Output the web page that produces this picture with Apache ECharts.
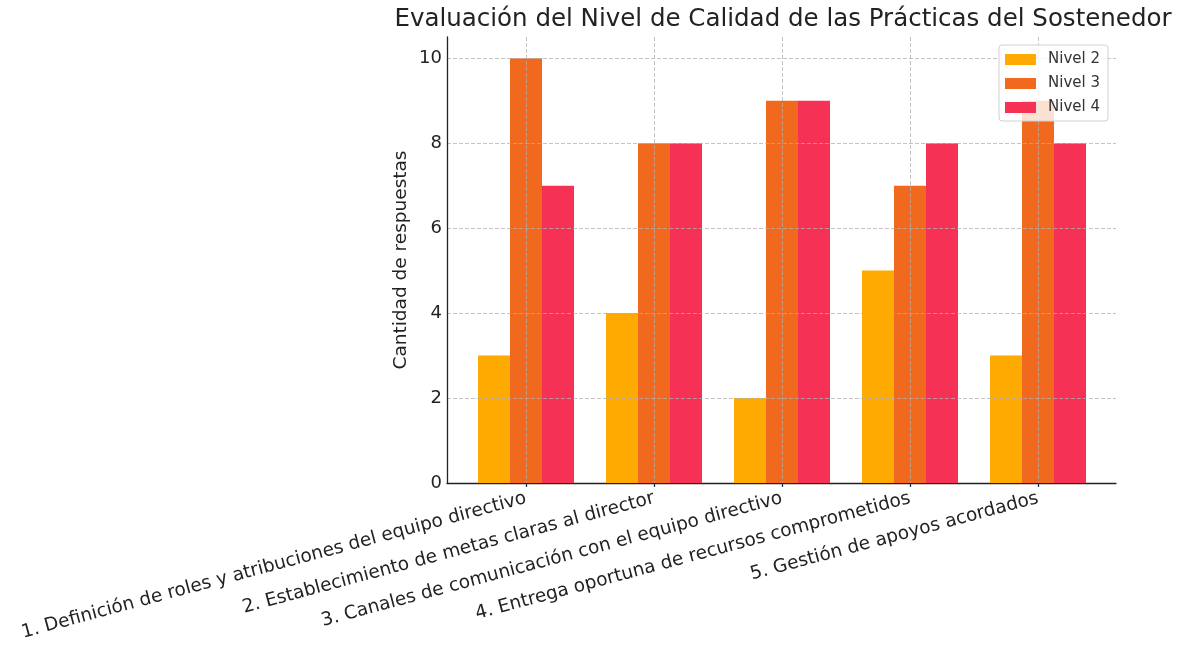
<!DOCTYPE html>
<html>
<head>
<meta charset="utf-8">
<script src="https://cdn.jsdelivr.net/npm/echarts@6/dist/echarts.min.js"></script>
<style>html,body{margin:0;padding:0;background:#fff}#c{width:1181px;height:651px}</style>
</head>
<body>
<div id="c"></div>
<script>
const categories = [
  '1. Definición de roles y atribuciones del equipo directivo',
  '2. Establecimiento de metas claras al director',
  '3. Canales de comunicación con el equipo directivo',
  '4. Entrega oportuna de recursos comprometidos',
  '5. Gestión de apoyos acordados'
];
const seriesNames = ['Nivel 2', 'Nivel 3', 'Nivel 4'];
const nivel2 = [3, 4, 2, 5, 3];
const nivel3 = [10, 8, 9, 7, 9];
const nivel4 = [7, 8, 9, 8, 8];
const yTicks = [0, 2, 4, 6, 8, 10];
const colors = ['#FFAA00', '#F0691F', '#F53255'];

const FONT = 'DejaVu Sans';
const chart = echarts.init(document.getElementById('c'), null, {renderer: 'canvas'});
const gridLine = {type: [4, 2], color: 'rgba(176,176,176,0.75)', width: 1};

chart.setOption({
  animation: false,
  backgroundColor: '#fff',
  textStyle: {fontFamily: FONT},
  title: {
    text: 'Evaluación del Nivel de Calidad de las Prácticas del Sostenedor',
    left: 778, textAlign: 'center', top: 2,
    textStyle: {fontFamily: FONT, fontSize: 24.5, fontWeight: 'normal', color: '#222'}
  },
  legend: {
    data: seriesNames,
    orient: 'vertical',
    left: 999, top: 45,
    itemWidth: 31, itemHeight: 11, itemGap: 9,
    padding: [7, 8, 6, 6],
    backgroundColor: 'rgba(255,255,255,0.8)',
    borderColor: '#d0d0d0', borderWidth: 1, borderRadius: 3,
    textStyle: {fontFamily: FONT, fontSize: 15, color: '#333', padding: [0, 0, 0, 7]},
    icon: 'rect'
  },
  grid: [
    {left: 447, right: 65, top: 37, bottom: 168, containLabel: false},
    {left: 462, width: 640, top: 37, bottom: 168, containLabel: false}
  ],
  xAxis: [
    {gridIndex: 0, type: 'value', min: 0, max: 1, axisLine: {show: true, onZero: false, lineStyle: {color: '#222', width: 1.3}},
     axisTick: {show: false}, axisLabel: {show: false}, splitLine: {show: false}},
    {gridIndex: 1, type: 'category', data: categories, z: 3,
     axisLine: {show: false},
     axisTick: {show: true, alignWithLabel: true, length: 4, lineStyle: {color: '#222', width: 1.2}},
     axisLabel: {rotate: 15, fontFamily: FONT, fontSize: 18.5, color: '#222', margin: 15, interval: 0},
     splitLine: {show: true, alignWithLabel: true, lineStyle: gridLine}}
  ],
  yAxis: [
    {gridIndex: 0, type: 'value', min: 0, max: 10.5, interval: 2, z: 3,
     name: 'Cantidad de respuestas', nameLocation: 'middle', nameGap: 36, nameMoveOverlap: false,
     nameTextStyle: {fontFamily: FONT, fontSize: 18.5, color: '#222'},
     axisLine: {show: true, lineStyle: {color: '#222', width: 1.3}},
     axisTick: {show: false},
     axisLabel: {fontFamily: FONT, fontSize: 18, color: '#222', margin: 5, showMaxLabel: false},
     splitLine: {show: true, showMinLine: false, showMaxLine: false, lineStyle: gridLine}},
    {gridIndex: 1, type: 'value', min: 0, max: 10.5, show: false, splitLine: {show: false}}
  ],
  series: [nivel2, nivel3, nivel4].map((d, i) => ({
    name: seriesNames[i], type: 'bar', xAxisIndex: 1, yAxisIndex: 1,
    data: d, barWidth: 32, barGap: '0%',
    itemStyle: {color: colors[i]}
  }))
});
</script>
</body>
</html>
